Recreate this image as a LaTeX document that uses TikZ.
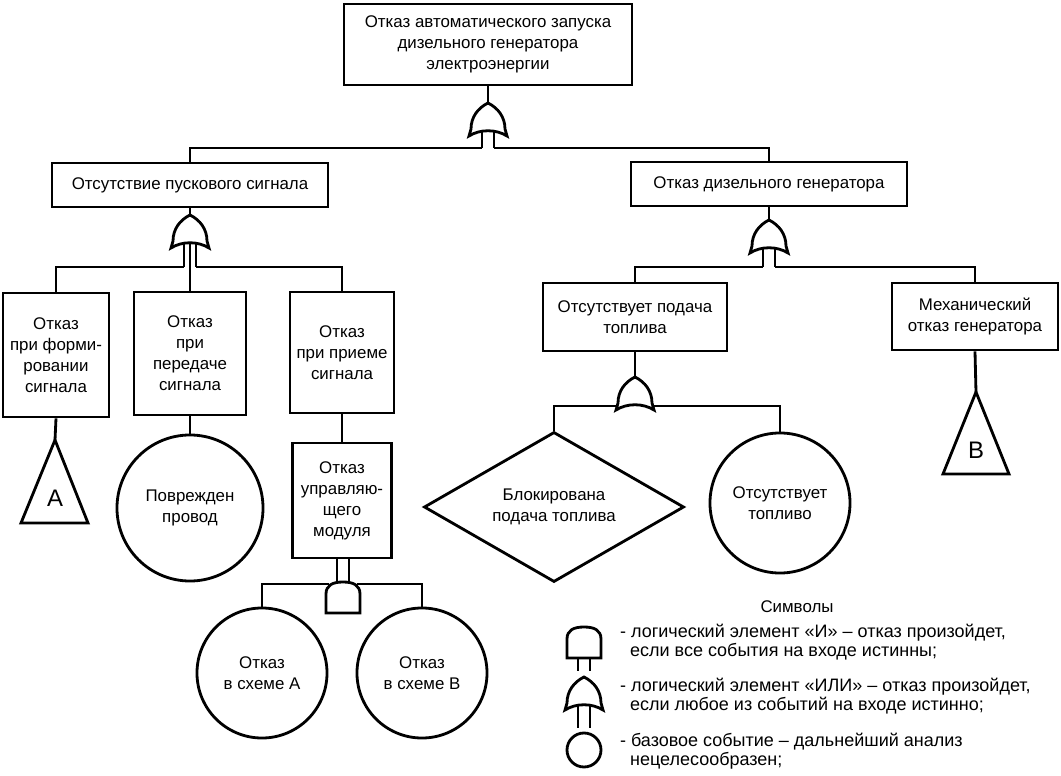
\documentclass[tikz,border=0pt]{standalone}
\usepackage{fontspec}
\setmainfont{Liberation Sans}
\usetikzlibrary{shapes.geometric, calc}

\begin{document}
\begin{tikzpicture}[
    x=0.025cm, y=-0.025cm, line width=2pt,
    font=\fontsize{12}{15}\selectfont,
    evt/.style={draw, align=center, inner sep=1pt},
    basic/.style={draw, circle, align=center, inner sep=0pt},
    gate/.style={fill=white},
    trlbl/.style={font=\fontsize{17}{17}\selectfont},
    legtext/.style={anchor=west, align=left, font=\fontsize{12.8}{13.8}\selectfont},
    pics/orgate/.style={code={
        \draw[gate] (0,0) .. controls (10,5) and (17,14) .. (17,26) -- (19,33)
            .. controls (8,26) and (-8,26) .. (-19,33) -- (-17,26)
            .. controls (-17,14) and (-10,5) .. (0,0) -- cycle;
        \draw (-6,28.5) -- (-6,#1) (6,28.5) -- (6,#1);
        \coordinate (-top) at (0,0);
        \coordinate (-bot) at (0,28);
        \coordinate (-l) at (-6,#1);
        \coordinate (-r) at (6,#1);
        \coordinate (-sl) at (-18,29);
        \coordinate (-sr) at (18,29);
    }},
    pics/andgate/.style={code={
        \draw[gate] (-17,31) -- (-17,12) .. controls (-17,3) and (-10,0) .. (0,0)
            .. controls (10,0) and (17,3) .. (17,12) -- (17,31) -- cycle;
        \draw (-6,31) -- (-6,31+#1) (6,31) -- (6,31+#1);
        \coordinate (-tl) at (-6,0.5);
        \coordinate (-tr) at (6,0.5);
        \coordinate (-sl) at (-14,2);
        \coordinate (-sr) at (14,2);
    }}
]
    \useasboundingbox (0,0) rectangle (1061,776);

    % events
    \node[evt, minimum width=7.2cm, minimum height=2.025cm] (top) at (488,44.5)
        {Отказ автоматического запуска\\дизельного генератора\\электроэнергии};
    \node[evt, minimum width=6.9cm, minimum height=1.1cm] (sig) at (190,185) {Отсутствие пускового сигнала};
    \node[evt, minimum width=6.9cm, minimum height=1.1cm] (dg) at (769,184) {Отказ дизельного генератора};
    \node[evt, minimum width=2.65cm, minimum height=3.1cm] (b1) at (56,355) {Отказ\\при форми-\\ровании\\сигнала};
    \node[evt, minimum width=2.8cm, minimum height=3.075cm] (b2) at (190,353.5) {Отказ\\при\\передаче\\сигнала};
    \node[evt, minimum width=2.6cm, minimum height=3.025cm] (b3) at (342,352.5) {Отказ\\при приеме\\сигнала};
    \node[evt, minimum width=2.475cm, minimum height=2.875cm] (mod) at (342,500.5) {Отказ\\управляю-\\щего\\модуля};
    \node[evt, minimum width=4.6cm, minimum height=1.7cm] (fuel) at (635,317) {Отсутствует подача\\топлива};
    \node[evt, minimum width=4.15cm, minimum height=1.675cm] (mech) at (975,316.5) {Механический\\отказ генератора};

    \node[basic, minimum size=3.65cm] (prov) at (190,508) {Поврежден\\провод};
    \node[basic, minimum size=3.25cm] (ca) at (262,673) {Отказ\\в схеме А};
    \node[basic, minimum size=3.25cm] (cb) at (422,673) {Отказ\\в схеме В};
    \node[basic, minimum size=3.5cm] (fc) at (780,503) {Отсутствует\\топливо};
    \node[draw, diamond, aspect=1.7, minimum width=6.5cm, minimum height=3.75cm,
        inner sep=0pt, align=center] (dia) at (554,507) {Блокирована\\подача топлива};

    % transfer triangles
    \coordinate (apxA) at (55,440);
    \coordinate (apxB) at (976,392);
    \draw (apxA) -- ++(33,83) -- ++(-67,0) -- cycle;
    \draw (apxB) -- ++(33,82) -- ++(-66,0) -- cycle;
    \node[trlbl] (lblA) at (55,498) {A};
    \node[trlbl] (lblB) at (976,450) {B};

    % gates
    \pic (g0) at (488,103) {orgate=45};
    \pic (g1) at (190,215) {orgate=52};
    \pic (g2) at (769,220) {orgate=47};
    \pic (g3) at (635,377) {orgate=28.5};
    \pic (ga) at (343,582) {andgate=0};

    % connectors
    \draw (top.south) -- (g0-top);
    \draw (sig.north) |- (g0-l);
    \draw (dg.north) |- (g0-r);
    \draw (sig.south) -- (g1-top);
    \draw (b1.north) |- (g1-l);
    \draw (b3.north) |- (g1-r);
    \draw (g1-bot) -- (b2.north);
    \draw (dg.south) -- (g2-top);
    \draw (fuel.north) |- (g2-l);
    \draw (mech.north) |- (g2-r);
    \draw (fuel.south) -- (g3-top);
    \draw (dia.north) |- (g3-sl);
    \draw (fc.north) |- (g3-sr);
    \draw (b1.south) -- (apxA);
    \draw (mech.south) -- (apxB);
    \draw (b2.south) -- (prov.north);
    \draw (b3.south) -- (mod.north);
    \draw (ca.north) |- (ga-sl);
    \draw (cb.north) |- (ga-sr);
    \draw (ga-tl |- mod.south) -- (ga-tl);
    \draw (ga-tr |- mod.south) -- (ga-tr);

    % legend
    \node (legtitle) at (797,607) {Символы};
    \pic (sa) at (584,627) {andgate=13};
    \pic (so) at (584,677) {orgate=51};
    \node[basic, minimum size=0.85cm] (sc) at (584,750) {};
    \node[legtext] (leg1) at (614,642)
        {- логический элемент «И» – отказ произойдет,\\\hspace*{2.5mm}если все события на входе истинны;};
    \node[legtext] (leg2) at (614,696)
        {- логический элемент «ИЛИ» – отказ произойдет,\\\hspace*{2.5mm}если любое из событий на входе истинно;};
    \node[legtext] (leg3) at (614,751)
        {- базовое событие – дальнейший анализ\\\hspace*{2.5mm}нецелесообразен;};
\end{tikzpicture}
\end{document}
